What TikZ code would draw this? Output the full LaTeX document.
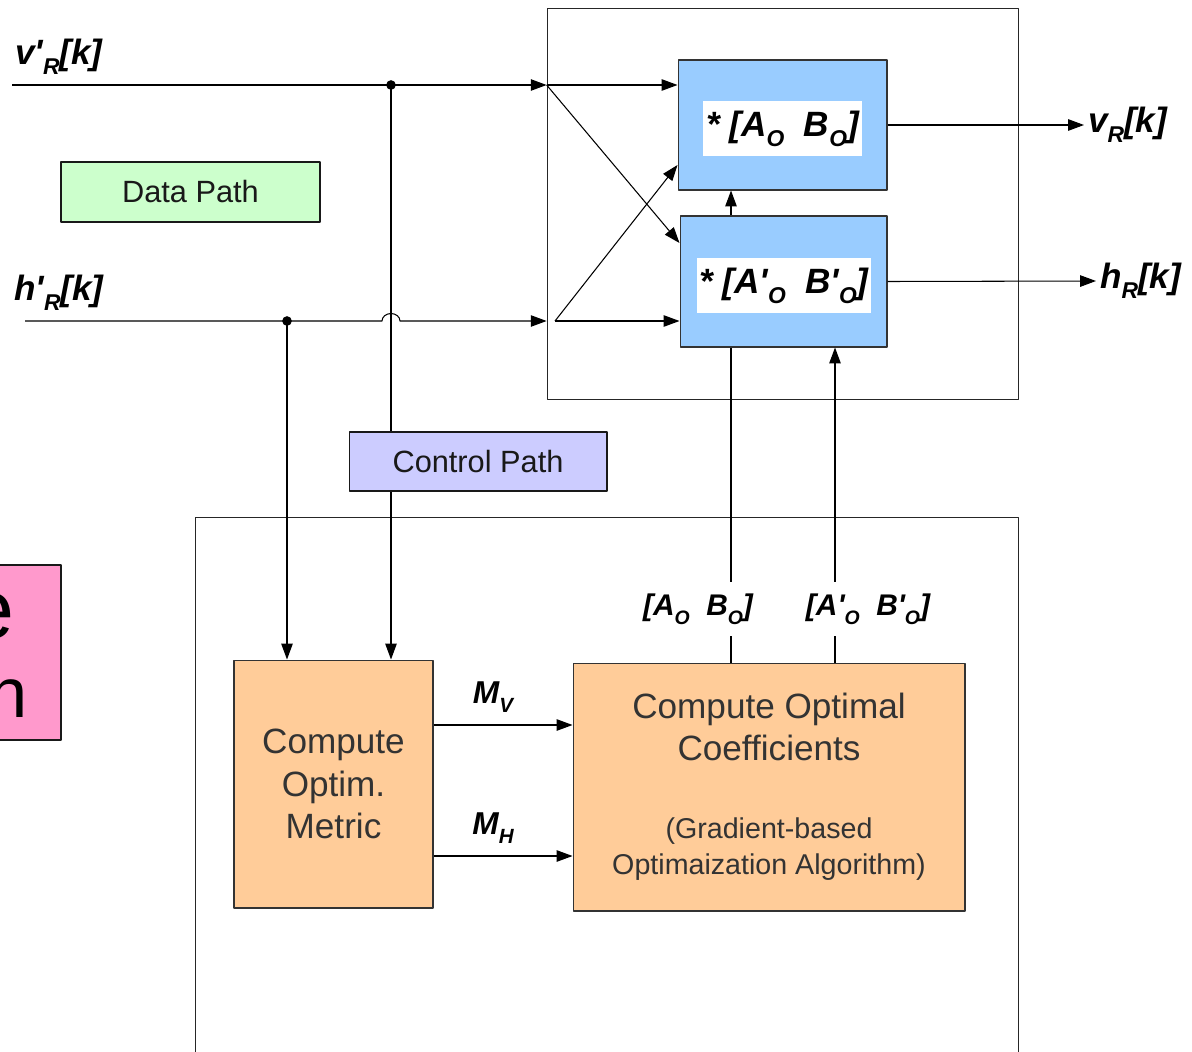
\documentclass[tikz,border=0pt]{standalone}
\usepackage{fontspec}
\setmainfont{Liberation Sans}
\usetikzlibrary{arrows.meta}
\definecolor{coefblue}{HTML}{99CCFF}
\definecolor{calcorange}{HTML}{FFCC99}
\definecolor{datagreen}{HTML}{CCFFCC}
\definecolor{ctrlviolet}{HTML}{CCCCFF}
\definecolor{pathpink}{HTML}{FF99CC}
% lowered, smaller index as in v'_R
\newcommand{\lo}[1]{\raisebox{-.55ex}{\scalebox{.65}{#1}}}
% straight prime
\newcommand{\pr}{\textquotesingle}
\begin{document}
\begin{tikzpicture}[x=0.02cm,y=-0.02cm,>={Triangle[length=9pt,width=6.5pt]},line width=0.6pt,line join=round,
	frame/.style={draw,black!85,line width=0.5pt},
	coef/.style={draw,black!80,fill=coefblue},
	tag/.style={fill=white,inner sep=0pt,font=\fontsize{20}{24}\selectfont\bfseries\itshape},
	calc/.style={draw,black!80,fill=calcorange,align=center,font=\fontsize{20}{24}\selectfont},
	note/.style={draw,black!90,font=\fontsize{17.5}{21}\selectfont},
	io/.style={inner sep=2pt,font=\fontsize{20}{24}\selectfont\bfseries\itshape},
	coeflbl/.style={fill=white,inner xsep=1pt,minimum height=1.08cm,font=\fontsize{17}{20}\selectfont\bfseries\itshape},
	metric/.style={font=\fontsize{18}{22}\selectfont\bfseries\itshape},
	dot/.style={circle,fill=black,inner sep=0pt,minimum size=5.5pt}]
	\useasboundingbox (0,0) rectangle (1192,1051);
	% frames
	\node[frame,minimum width=9.42cm,minimum height=7.82cm] (filt) at (782.5,203.5) {};
	\draw[frame] (195,1060) -- (195,517) -- (1018,517) -- (1018,1060);
	% filter blocks
	\node[coef,minimum width=4.18cm,minimum height=2.6cm] (cv) at (782.5,125) {};
	\node[tag,minimum width=3.18cm,minimum height=1.1cm] (cvtxt) at (782.5,128.5) {* [A\lo{O}\ \ B\lo{O}]};
	\node[coef,minimum width=4.14cm,minimum height=2.62cm] (ch) at (783.5,281.5) {};
	\node[tag,minimum width=3.48cm,minimum height=1.1cm] (chtxt) at (784,285.5) {* [A\pr\lo{O}\ \ B\pr\lo{O}]};
	% computation blocks
	\node[calc,minimum width=3.98cm,minimum height=4.96cm] (metric) at (333.5,784) {Compute\\Optim.\\Metric};
	\node[calc,minimum width=7.84cm,minimum height=4.96cm] (optim) at (769,787) {Compute Optimal\\Coefficients\\[0.71cm]
		\fontsize{16.3}{20}\selectfont(Gradient-based\\[-0.12cm]\fontsize{16.3}{20}\selectfont Optimaization Algorithm)};
	% inputs
	\node[io] (vlbl) at (59,57) {v\pr\lo{R}[k]};
	\node[io] (hlbl) at (59,293) {h\pr\lo{R}[k]};
	\coordinate (vin) at (12,85);
	\coordinate (hin) at (25,321);
	\coordinate (vdot) at (391,85);
	\coordinate (hdot) at (287,321);
	\coordinate (hop) at (382,321);
	\coordinate (hsplit) at (555,321);
	\draw[->] (vin) -- (vin -| filt.west);
	\draw[->] (vin -| filt.west) -- (vin -| cv.west);
	\draw[->] (vin -| filt.west) -- ([yshift=0.77cm]ch.west);
	\draw[->] (hin) -- (hop) arc[start angle=180,end angle=0,x radius=0.18cm,y radius=0.15cm] -- (hin -| filt.west);
	\draw[->] (hsplit) -- (hsplit -| ch.west);
	\draw[->] (hsplit) -- ([yshift=-0.8cm]cv.west);
	\node[dot] at (vdot) {};
	\node[dot] at (hdot) {};
	% control path
	\draw[->] (hdot) -- (hdot |- metric.north);
	\draw[->] (vdot) -- (vdot |- metric.north);
	\node[note,fill=datagreen,minimum width=5.18cm,minimum height=1.2cm] (data) at (190.5,192) {Data Path};
	\node[note,fill=ctrlviolet,minimum width=5.16cm,minimum height=1.18cm] (ctrl) at (478,461.5) {Control Path};
	% coefficient lines
	\coordinate (abx) at (731,0);
	\coordinate (cdx) at (835,0);
	\draw[->] (abx |- ch.north) -- (abx |- cv.south);
	\draw (abx |- optim.north) -- (abx |- ch.south);
	\draw[->] (cdx |- optim.north) -- (cdx |- ch.south);
	\node[coeflbl] (ablbl) at (698,609) {[A\lo{O}\ \ B\lo{O}]};
	\node[coeflbl] (cdlbl) at (868,609) {[A\pr\lo{O}\ \ B\pr\lo{O}]};
	% metrics
	\draw[->] (metric.east |- 0,725) -- (optim.west |- 0,725);
	\draw[->] (metric.east |- 0,856) -- (optim.west |- 0,856);
	\node[metric] (mv) at (493,697) {M\lo{V}};
	\node[metric] (mh) at (493,828) {M\lo{H}};
	% outputs
	\node[io,anchor=west] (vout) at (1084,125) {v\lo{R}[k]};
	\node[io,anchor=west] (hout) at (1096,281) {h\lo{R}[k]};
	\draw[->] (cv.east) -- (vout.west);
	\draw[->] (ch.east) -- (hout.west);
	% label box running off the left border
	\node[draw,black!90,fill=pathpink,minimum width=2cm,minimum height=3.5cm] (fb) at (11,652.5) {};
	\node[anchor=base east,inner sep=0pt,font=\fontsize{48}{48}\selectfont] (fbe) at (15,638) {e};
	\node[anchor=base east,inner sep=0pt,font=\fontsize{40}{40}\selectfont] (fbh) at (28,717) {h};
\end{tikzpicture}
\end{document}
